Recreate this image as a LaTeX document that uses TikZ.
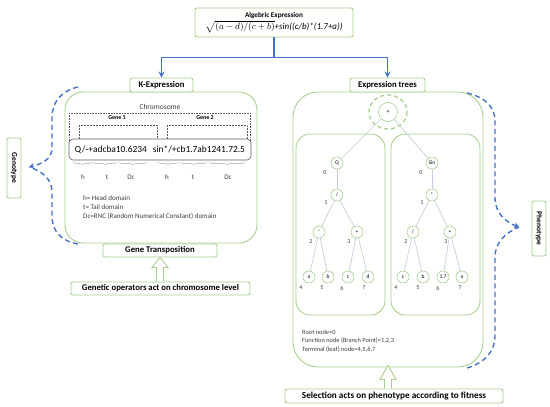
\documentclass[tikz,border=0pt]{standalone}
\usepackage{fontspec}
\setmainfont{Carlito}
\usetikzlibrary{calc,decorations.pathreplacing,arrows.meta}
\definecolor{gborder}{RGB}{169,208,142}
\definecolor{gblue}{RGB}{68,114,196}
\definecolor{edgec}{RGB}{196,206,224}
\definecolor{tgray}{RGB}{60,60,60}
\begin{document}
\begin{tikzpicture}[x=1pt,y=-1pt,
  lbl/.style={draw=gborder, fill=white, rounded corners=2pt, line width=0.9pt, inner sep=0pt, font=\bfseries\fontsize{8.7}{9}\selectfont, text=black},
  bigbox/.style={draw=gborder, line width=0.9pt, inner sep=0pt},
  tn/.style={circle, draw=gborder, fill=white, minimum size=12pt, inner sep=0pt, line width=0.6pt, font=\fontsize{5.5}{6}\selectfont},
  num/.style={font=\fontsize{6}{7}\selectfont, text=tgray, inner sep=0pt},
  te/.style={draw=edgec, line width=0.7pt},
  bluecon/.style={draw=gblue, line width=1.3pt, -{Stealth[length=6pt,width=6pt]}},
  bluedash/.style={draw=gblue, line width=1.4pt, dash pattern=on 5pt off 3.5pt},
  hollow/.style={draw=gborder, fill=white, line width=0.9pt, line join=miter},
  brc/.style={draw=gray!50, line width=0.6pt, decorate, decoration={brace, mirror, amplitude=3pt}},
  dom/.style={font=\fontsize{7}{8}\selectfont, text=tgray, inner sep=0pt},
  leg/.style={anchor=west, font=\fontsize{7}{8}\selectfont, text=tgray, inner sep=0pt},
  legr/.style={anchor=west, font=\fontsize{6.4}{7}\selectfont, text=tgray, inner sep=0pt}
]
\useasboundingbox (0,0) rectangle (550,407);

% ---------- top algebraic expression ----------
\node[lbl, minimum width=158pt, minimum height=29pt, align=center, font=\fontsize{9}{10}\selectfont] (alg) at (274,22.5)
  {{\bfseries\fontsize{7.2}{8}\selectfont Algebric Expression}\\[1pt]
   $\sqrt{(a-d)/(c+b)}$\textit{+sin((c/b)*(1.7+a))}};

% ---------- K-Expression (left) ----------
\node[bigbox, rounded corners=18pt, minimum width=192pt, minimum height=151pt] (kbox) at (161,167.5) {};
\node[lbl, minimum width=63pt, minimum height=14pt] (klbl) at (161.5,85) {K-Expression};

\node[font=\fontsize{7.5}{8}\selectfont, text=tgray, inner sep=0pt] (chromlbl) at (160,107) {Chromosome};
\draw[densely dotted, draw=gray!70!black, line width=0.6pt] (69,113) rectangle (250,150);
\node[font=\bfseries\fontsize{6}{7}\selectfont, inner sep=0pt] (g1) at (117,118) {Gene 1};
\node[font=\bfseries\fontsize{6}{7}\selectfont, inner sep=0pt] (g2) at (205,118) {Gene 2};
\draw[densely dotted, draw=gray!70!black, line width=0.5pt] (79,140) -- (79,125) -- (157,125) -- (157,140);
\draw[densely dotted, draw=gray!70!black, line width=0.5pt] (167,140) -- (167,125) -- (247,125) -- (247,140);
\node[draw=gray!75!black, fill=white, rounded corners=4pt, line width=0.6pt, minimum width=182pt, minimum height=21pt, inner sep=0pt, font=\fontsize{9.4}{10}\selectfont] (chrom) at (160,149.5)
  {Q/-+adcba10.6234\hspace{6pt}sin*/+cb1.7ab1241.72.5};

\draw[brc] (73,162) -- (92,162);
\draw[brc] (93,162) -- (117,162);
\draw[brc] (119,162) -- (147,162);
\draw[brc] (158,162) -- (178,162);
\draw[brc] (180,162) -- (207,162);
\draw[brc] (209,162) -- (245,162);
\node[dom] (d1) at (83,177) {h};
\node[dom] (d2) at (107,177) {t};
\node[dom] (d3) at (131,177) {Dc};
\node[dom] (d4) at (167,177) {h};
\node[dom] (d5) at (193,177) {t};
\node[dom] (d6) at (228,177) {Dc};

\node[leg] (l1) at (83,198) {h= Head domain};
\node[leg] (l2) at (83,207) {t= Tail domain};
\node[leg] (l3) at (83,216) {Dc=RNC (Random Numerical Constant) domain};

\node[lbl, minimum width=114pt, minimum height=13pt] (gtr) at (160,250.5) {Gene Transposition};
\node[lbl, minimum width=179pt, minimum height=13pt] (gop) at (160.5,288.5) {Genetic operators act on chromosome level};
\draw[hollow] ($(gtr.south |- gop.north)+(-3.5,0)$) -- ($(gtr.south)+(-3.5,10)$) -- ($(gtr.south)+(-8,10)$) -- (gtr.south)
  -- ($(gtr.south)+(8,10)$) -- ($(gtr.south)+(3.5,10)$) -- ($(gtr.south |- gop.north)+(3.5,0)$);

% ---------- Genotype ----------
\node[lbl, rotate=-90, minimum width=60pt, minimum height=14pt, font=\bfseries\fontsize{7.5}{8}\selectfont] (geno) at (14,168) {Genotype};
\coordinate (gtip) at (29,167);
\draw[bluedash, -{Stealth[length=5pt,width=6pt]}] (78,87) .. controls (61,91) and (52,102) .. (52,118) -- (52,148) .. controls (52,159) and (42,164) .. (gtip);
\draw[bluedash] (78,244) .. controls (61,241) and (52,231) .. (52,216) -- (52,192) .. controls (52,179) and (42,171) .. (gtip);

% ---------- Expression trees (right) ----------
\node[bigbox, rounded corners=25pt, minimum width=190pt, minimum height=275pt] (ebox) at (388,229.5) {};
\node[lbl, minimum width=75pt, minimum height=14pt] (elbl) at (387.5,85) {Expression trees};
\node[bigbox, rounded corners=14pt, minimum width=89pt, minimum height=181pt] (lt) at (340.5,224.5) {};
\node[bigbox, rounded corners=14pt, minimum width=89pt, minimum height=181pt] (rt) at (435.5,224.5) {};

\node[tn, minimum size=19pt, font=\fontsize{6}{7}\selectfont] (root) at (388,112) {+};
\draw[draw=gborder, line width=1.3pt, dash pattern=on 4pt off 3pt] (root) ellipse [x radius=19, y radius=17];

% left tree
\node[tn] (q) at (337,163) {Q};
\node[tn] (ldiv) at (337,195) {/};
\node[tn] (lmin) at (319,232) {-};
\node[tn] (lplus) at (357,232) {+};
\node[tn] (la) at (309,277) {a};
\node[tn] (lb) at (328,277) {b};
\node[tn] (lc) at (348,277) {c};
\node[tn] (ld) at (368,277) {d};
% right tree
\node[tn] (sin) at (432,163) {Sin};
\node[tn] (rmul) at (432,195) {*};
\node[tn] (rdiv) at (413,232) {/};
\node[tn] (rplus) at (450,232) {+};
\node[tn] (rc) at (403,277) {c};
\node[tn] (rb) at (423,277) {b};
\node[tn] (r17) at (443,277) {1.7};
\node[tn] (ra) at (462,277) {a};

\draw[te] (root) -- (q);
\draw[te] (root) -- (sin);
\draw[te] (q) -- (ldiv);
\draw[te] (ldiv) -- (lmin);
\draw[te] (ldiv) -- (lplus);
\draw[te] (lmin) -- (la);
\draw[te] (lmin) -- (lb);
\draw[te] (lplus) -- (lc);
\draw[te] (lplus) -- (ld);
\draw[te] (sin) -- (rmul);
\draw[te] (rmul) -- (rdiv);
\draw[te] (rmul) -- (rplus);
\draw[te] (rdiv) -- (rc);
\draw[te] (rdiv) -- (rb);
\draw[te] (rplus) -- (r17);
\draw[te] (rplus) -- (ra);

% level numbers
\node[num] (n0l) at (325,173) {0};
\node[num] (n1l) at (326,203) {1};
\node[num] (n2l) at (311,242) {2};
\node[num] (n3l) at (349,242) {3};
\node[num] (n4l) at (301,288) {4};
\node[num] (n5l) at (322,288) {5};
\node[num] (n6l) at (342,288) {6};
\node[num] (n7l) at (364,288) {7};
\node[num] (n0r) at (421,173) {0};
\node[num] (n1r) at (422,203) {1};
\node[num] (n2r) at (406,242) {2};
\node[num] (n3r) at (446,242) {3};
\node[num] (n4r) at (396,288) {4};
\node[num] (n5r) at (418,288) {5};
\node[num] (n6r) at (438,288) {6};
\node[num] (n7r) at (460,288) {7};

\node[legr] (r1) at (302,332) {Root node=0};
\node[legr] (r2) at (302,341) {Function node (Branch Point)=1,2,3};
\node[legr] (r3) at (302,350) {Terminal (leaf) node=4,5,6,7};

\node[lbl, minimum width=218pt, minimum height=14pt, font=\bfseries\fontsize{9.2}{10}\selectfont] (sel) at (394,396) {Selection acts on phenotype according to fitness};
\draw[hollow] ($(ebox.south |- sel.north)+(-3.5,0)$) -- ($(ebox.south)+(-3.5,12)$) -- ($(ebox.south)+(-8,12)$) -- ($(ebox.south)+(0,-2)$)
  -- ($(ebox.south)+(8,12)$) -- ($(ebox.south)+(3.5,12)$) -- ($(ebox.south |- sel.north)+(3.5,0)$);

% ---------- Phenotype ----------
\node[lbl, rotate=-90, minimum width=55pt, minimum height=14pt, font=\bfseries\fontsize{7.5}{8}\selectfont] (pheno) at (539,228.5) {Phenotype};
\coordinate (ptip) at (519,227);
\draw[bluedash, -{Stealth[length=5pt,width=6pt]}] (467,93) .. controls (484,97) and (495,106) .. (495,121) -- (495,198) .. controls (495,212) and (505,222) .. (ptip);
\draw[bluedash] (467,368) .. controls (484,363) and (495,352) .. (495,336) -- (495,257) .. controls (495,243) and (505,233) .. (ptip);

% ---------- top blue connectors ----------
\coordinate (junc) at ($(alg.south)+(0,20)$);
\draw[draw=gblue, line width=1.3pt] (alg.south) -- (junc);
\draw[bluecon] (junc) -| (klbl.north);
\draw[bluecon] (junc) -| (elbl.north);
\end{tikzpicture}
\end{document}
